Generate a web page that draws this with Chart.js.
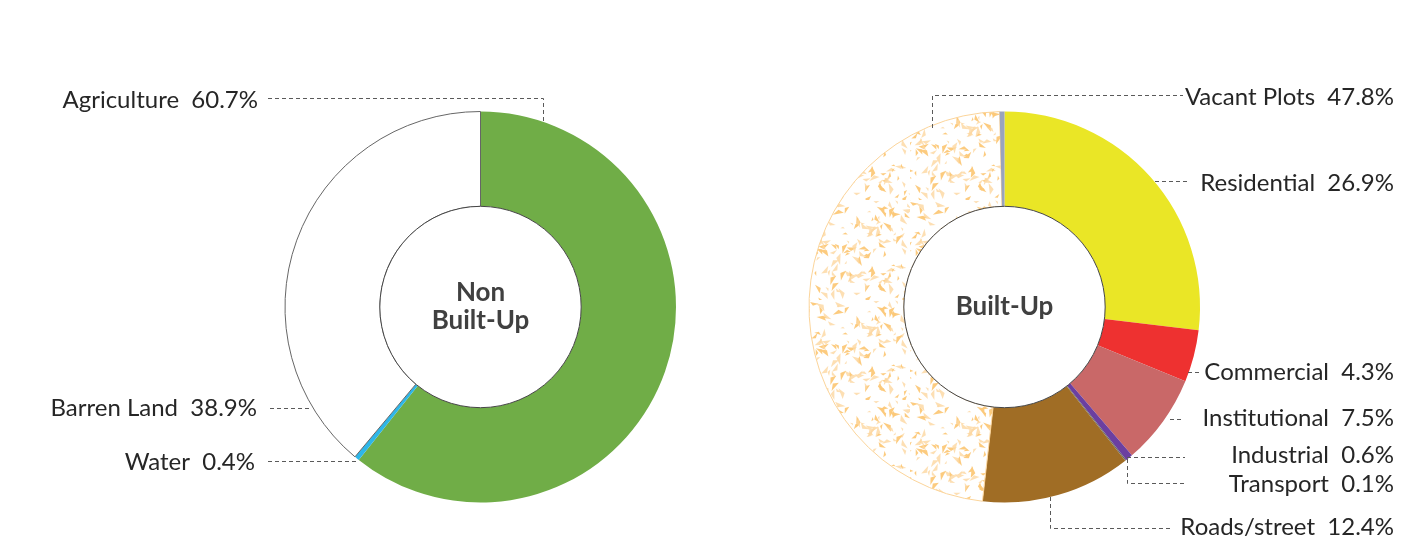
<!DOCTYPE html>
<html>
<head>
<meta charset="utf-8">
<script src="https://cdn.jsdelivr.net/npm/chart.js@4.4.1/dist/chart.umd.min.js"></script>
<style>
  body { margin: 0; background: #fff; width: 1421px; height: 540px; overflow: hidden; position: relative; }
  canvas { position: absolute; top: 0; }
</style>
</head>
<body>
<canvas id="nonBuilt" width="710" height="540" style="left:0px"></canvas>
<canvas id="built" width="711" height="540" style="left:710px"></canvas>
<script>
// data
var nonBuiltLabels = ['Agriculture', 'Water', 'Barren Land'];
var nonBuiltValues = [60.7, 0.4, 38.9];

var builtLabels = ['Residential', 'Commercial', 'Institutional', 'Industrial', 'Transport', 'Roads/street', 'Vacant Plots', ''];
var builtValues = [26.9, 4.3, 7.5, 0.6, 0.1, 12.4, 47.8, 0.4];

// speckled texture for vacant plots
function makeSpeckle() {
  var c = document.createElement('canvas');
  c.width = 100; c.height = 100;
  var g = c.getContext('2d');
  g.fillStyle = '#fff';
  g.fillRect(0, 0, 100, 100);
  var seed = 11;
  function rnd() { seed = (seed * 16807) % 2147483647; return seed / 2147483647; }
  for (var i = 0; i < 150; i++) {
    var x = rnd() * 100, y = rnd() * 100, a = rnd() * Math.PI * 2, l = 4 + rnd() * 8;
    g.fillStyle = rnd() < 0.5 ? 'rgba(252,200,120,0.95)' : 'rgba(253,215,160,0.8)';
    g.beginPath();
    g.moveTo(x, y);
    g.lineTo(x + Math.cos(a) * l, y + Math.sin(a) * l);
    g.lineTo(x + Math.cos(a + 0.7) * l * 0.55, y + Math.sin(a + 0.7) * l * 0.55);
    g.closePath();
    g.fill();
  }
  return g.createPattern(c, 'repeat');
}
var speckle = makeSpeckle();

var labelFont = '24px Lato, "Noto Sans", sans-serif';
var centerFont = 'bold 26px Lato, "Noto Sans", sans-serif';

// leader lines and label spots (page coordinates)
var nonBuiltCallouts = [
  { i: 0, tx: 258, ty: 100, path: [[268, 98.5], [543.5, 98.5], [543.5, 122]] },
  { i: 2, tx: 257, ty: 408, path: [[270, 408.5], [312, 408.5]] },
  { i: 1, tx: 255, ty: 462, path: [[268, 461.5], [358, 461.5]] }
];
var builtCallouts = [
  { i: 6, tx: 1394, ty: 97, path: [[932.5, 128], [932.5, 95.5], [1183, 95.5]] },
  { i: 0, tx: 1394, ty: 183, path: [[1155, 181.5], [1190, 181.5]] },
  { i: 1, tx: 1394, ty: 372, path: [[1188, 372.5], [1200, 372.5]] },
  { i: 2, tx: 1394, ty: 418, path: [[1170, 419.5], [1184, 419.5]] },
  { i: 3, tx: 1394, ty: 455, path: [[1127, 457.5], [1185, 457.5]] },
  { i: 4, tx: 1394, ty: 484, path: [[1127.5, 459], [1127.5, 483.5], [1185, 483.5]] },
  { i: 5, tx: 1394, ty: 527, path: [[1050.5, 497], [1050.5, 528.5], [1173, 528.5]] }
];

var calloutPlugin = {
  id: 'callouts',
  afterDraw: function(chart) {
    var o = chart.options.plugins.callouts;
    var ctx = chart.ctx;
    var arc = chart.getDatasetMeta(0).data[0];
    var labels = chart.data.labels;
    var values = chart.data.datasets[0].data;
    ctx.save();
    // hole outline
    ctx.beginPath();
    ctx.arc(arc.x, arc.y, arc.innerRadius, 0, Math.PI * 2);
    ctx.fillStyle = '#fff';
    ctx.fill();
    ctx.lineWidth = 1;
    ctx.strokeStyle = '#444';
    ctx.stroke();
    // center title
    ctx.fillStyle = '#404040';
    ctx.font = centerFont;
    ctx.textAlign = 'center';
    ctx.textBaseline = 'middle';
    var lh = 28, y0 = arc.y - (o.title.length - 1) * lh / 2;
    o.title.forEach(function(t, k) { ctx.fillText(t, arc.x, y0 + k * lh); });
    // leaders
    ctx.setLineDash([4, 3]);
    ctx.strokeStyle = '#5a5a5a';
    o.items.forEach(function(c) {
      ctx.beginPath();
      c.path.forEach(function(p, k) {
        var x = p[0] - o.offset;
        if (k === 0) ctx.moveTo(x, p[1]); else ctx.lineTo(x, p[1]);
      });
      ctx.stroke();
    });
    ctx.setLineDash([]);
    ctx.fillStyle = '#262626';
    ctx.font = labelFont;
    ctx.textAlign = 'right';
    o.items.forEach(function(c) {
      ctx.fillText(labels[c.i] + '  ' + values[c.i].toFixed(1) + '%', c.tx - o.offset, c.ty);
    });
    ctx.restore();
  }
};

new Chart(document.getElementById('nonBuilt'), {
  type: 'doughnut',
  data: {
    labels: nonBuiltLabels,
    datasets: [{
      data: nonBuiltValues,
      backgroundColor: ['#70ad47', '#2eb6e8', '#ffffff'],
      borderColor: ['#70ad47', '#2eb6e8', '#666666'],
      borderWidth: [0, 0, 1]
    }]
  },
  options: {
    responsive: false,
    animation: false,
    cutout: '51.5%',
    layout: { padding: { left: 284.5, right: 33.5, top: 111, bottom: 37 } },
    plugins: {
      legend: { display: false },
      tooltip: { enabled: false },
      callouts: { title: ['Non', 'Built-Up'], items: nonBuiltCallouts, offset: 0 }
    }
  },
  plugins: [calloutPlugin]
});

new Chart(document.getElementById('built'), {
  type: 'doughnut',
  data: {
    labels: builtLabels,
    datasets: [{
      data: builtValues,
      backgroundColor: ['#eae626', '#ee3130', '#c96868', '#6b3fa0', '#6a6a6a', '#a06d25', speckle, '#9aa3bd'],
      borderColor: ['#eae626', '#ee3130', '#c96868', '#6b3fa0', '#6a6a6a', '#a06d25', '#fbd49a', '#9aa3bd'],
      borderWidth: [0, 0, 0, 0, 0, 0, 1, 0]
    }]
  },
  options: {
    responsive: false,
    animation: false,
    cutout: '51.5%',
    layout: { padding: { left: 98.5, right: 220.5, top: 111, bottom: 37 } },
    plugins: {
      legend: { display: false },
      tooltip: { enabled: false },
      callouts: { title: ['Built-Up'], items: builtCallouts, offset: 710 }
    }
  },
  plugins: [calloutPlugin]
});
</script>
</body>
</html>
